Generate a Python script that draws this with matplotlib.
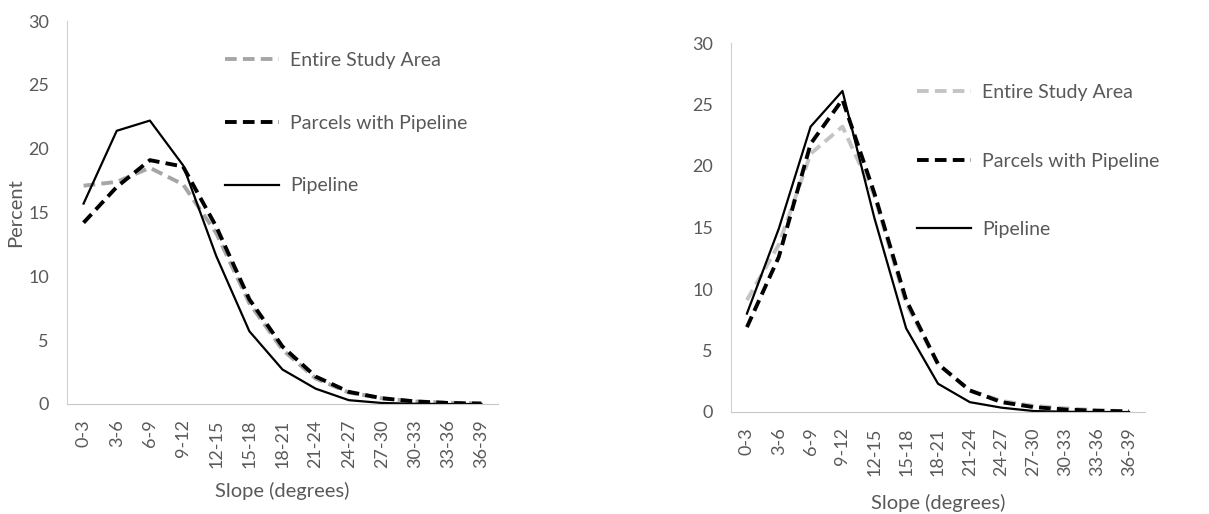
import matplotlib
matplotlib.use("Agg")
import matplotlib.pyplot as plt

plt.rcParams['font.family'] = ['Lato', 'DejaVu Sans']

# slope classes (degrees)
categories = ['0-3', '3-6', '6-9', '9-12', '12-15', '15-18', '18-21',
              '21-24', '24-27', '27-30', '30-33', '33-36', '36-39']

# left panel (percent)
left_entire = [17.1, 17.4, 18.5, 17.2, 13.4, 7.9, 4.25, 2.0, 0.9, 0.45, 0.2, 0.1, 0.05]
left_parcels = [14.2, 17.0, 19.1, 18.6, 13.9, 8.2, 4.5, 2.15, 0.95, 0.45, 0.2, 0.08, 0.03]
left_pipeline = [15.7, 21.4, 22.2, 18.7, 11.6, 5.7, 2.7, 1.2, 0.3, 0.08, 0.02, 0.0, 0.0]

# right panel (percent)
right_entire = [9.1, 13.6, 21.0, 23.2, 17.6, 8.8, 3.9, 1.75, 0.9, 0.5, 0.3, 0.15, 0.05]
right_parcels = [6.9, 12.6, 21.8, 25.4, 17.8, 9.1, 3.9, 1.75, 0.8, 0.4, 0.2, 0.1, 0.05]
right_pipeline = [8.0, 14.9, 23.2, 26.1, 15.8, 6.8, 2.3, 0.8, 0.35, 0.08, 0.02, 0.0, 0.0]

labels = ['Entire Study Area', 'Parcels with Pipeline', 'Pipeline']
txt = '#595959'

W, H = 1209, 514
fig = plt.figure(figsize=(W / 100, H / 100), dpi=100)


def panel(rect, entire, parcels, pipeline, gray, ylabel, leg_anchor, spacing, xlpad):
    ax = fig.add_axes(rect)
    x = range(len(categories))
    ax.plot(x, entire, color=gray, lw=2.8, dashes=(3, 1.6), label=labels[0])
    ax.plot(x, parcels, color='black', lw=2.8, dashes=(3, 1.6), label=labels[1])
    ax.plot(x, pipeline, color='black', lw=1.6, label=labels[2])
    ax.set_xlim(-0.5, len(categories) - 0.5)
    ax.set_ylim(0, 30)
    ax.set_yticks(range(0, 31, 5))
    ax.set_xticks(list(x))
    ax.set_xticklabels(categories, rotation=90)
    ax.tick_params(length=0, labelsize=13, labelcolor=txt)
    ax.tick_params(axis='y', pad=13)
    ax.tick_params(axis='x', pad=11)
    for s in ['top', 'right']:
        ax.spines[s].set_visible(False)
    ax.spines['left'].set_color('#d0d0d0')
    ax.spines['bottom'].set_color('#c8c8c8')
    ax.set_xlabel('Slope (degrees)', fontsize=14.5, color=txt, labelpad=xlpad)
    if ylabel:
        ax.set_ylabel(ylabel, fontsize=14.5, color=txt, labelpad=3)
    leg = ax.legend(loc='upper left', bbox_to_anchor=leg_anchor,
                    bbox_transform=fig.transFigure, frameon=False,
                    fontsize=14, handlelength=2.8, handletextpad=0.55,
                    labelspacing=spacing, borderpad=0, borderaxespad=0)
    for t in leg.get_texts():
        t.set_color(txt)
    return ax


panel([67 / W, 1 - 404 / H, 431 / W, 383 / H], left_entire, left_parcels,
      left_pipeline, '#a6a6a6', 'Percent', (225 / W, 1 - 52 / H), 2.35, 10)
panel([731 / W, 1 - 412 / H, 414 / W, 369 / H], right_entire, right_parcels,
      right_pipeline, '#c4c4c4', None, (917 / W, 1 - 84 / H), 2.65, 13)

fig.savefig('out.png', dpi=100)
